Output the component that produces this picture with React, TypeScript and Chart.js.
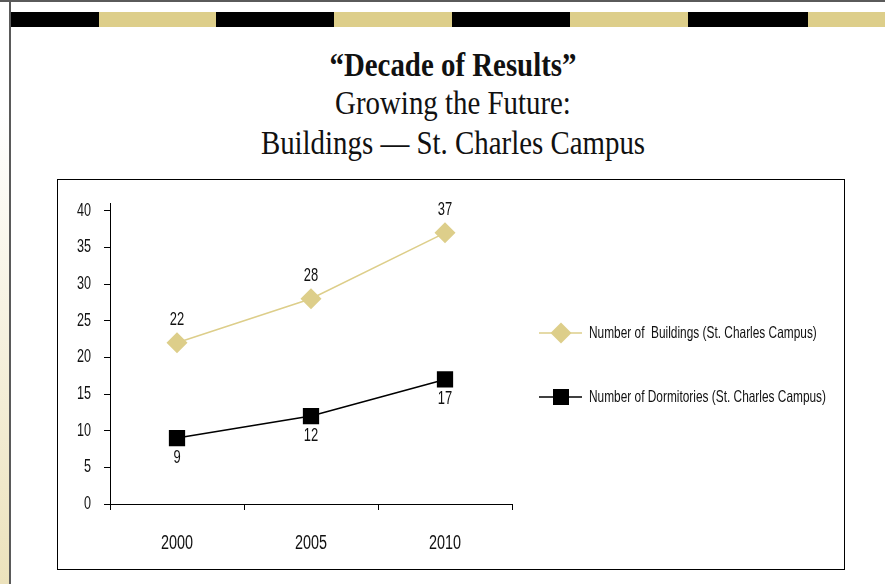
import React, { useEffect, useRef } from 'react';
import { Chart, registerables } from 'chart.js';

Chart.register(...registerables);

const categories = ['2000', '2005', '2010'];
const buildings = [22, 28, 37];
const dormitories = [9, 12, 17];
const yTicks = [0, 5, 10, 15, 20, 25, 30, 35, 40];
const seriesNames = [
  'Number of  Buildings (St. Charles Campus)',
  'Number of Dormitories (St. Charles Campus)',
];
const titleLines = ['\u201CDecade of Results\u201D', 'Growing the Future:', 'Buildings \u2014 St. Charles Campus'];

const GOLD = '#DDCE8A';
const FONT = '"Liberation Sans", Arial, sans-serif';
const SERIF = '"Liberation Serif", "Times New Roman", serif';
const SX = 0.72; // horizontal squeeze to mimic the condensed face

const stripeEdges = [11, 99, 216, 334, 452, 570, 688, 808, 885];

export default function App() {
  const ref = useRef<HTMLCanvasElement>(null);

  useEffect(() => {
    const canvas = ref.current;
    if (!canvas) return;
    const c2d: any = canvas.getContext('2d');
    const origFill = c2d.fillText.bind(c2d);
    const origMeasure = c2d.measureText.bind(c2d);
    c2d.fillText = (t: string, x: number, y: number, mw?: number) => {
      c2d.save();
      c2d.translate(x, y);
      c2d.scale(SX, 1);
      if (mw === undefined || mw === null) origFill(t, 0, 0);
      else origFill(t, 0, 0, mw / SX);
      c2d.restore();
    };
    c2d.measureText = (t: string) => {
      const m = origMeasure(t);
      return {
        width: m.width * SX,
        actualBoundingBoxAscent: m.actualBoundingBoxAscent,
        actualBoundingBoxDescent: m.actualBoundingBoxDescent,
        actualBoundingBoxLeft: m.actualBoundingBoxLeft * SX,
        actualBoundingBoxRight: m.actualBoundingBoxRight * SX,
      };
    };

    const labelPlugin = {
      id: 'valueLabels',
      afterDatasetsDraw(chart: any) {
        const ctx = chart.ctx;
        ctx.save();
        ctx.font = `18px ${FONT}`;
        ctx.fillStyle = '#111';
        ctx.textAlign = 'center';
        ctx.textBaseline = 'middle';
        chart.data.datasets.forEach((ds: any, i: number) => {
          const meta = chart.getDatasetMeta(i);
          const off = i === 0 ? -23 : 20;
          meta.data.forEach((el: any, j: number) => {
            ctx.fillText(String(ds.data[j]), el.x, el.y + off);
          });
        });
        ctx.restore();
      },
    };

    const legendPlugin = {
      id: 'customLegend',
      afterDraw(chart: any) {
        const ctx = chart.ctx;
        const right = chart.chartArea.right;
        const ys = [153, 217];
        ctx.save();
        chart.data.datasets.forEach((ds: any, i: number) => {
          const y = ys[i];
          const cx = right + 49;
          ctx.strokeStyle = ds.borderColor;
          ctx.lineWidth = 1.5;
          ctx.beginPath();
          ctx.moveTo(right + 27, y);
          ctx.lineTo(right + 70, y);
          ctx.stroke();
          ctx.fillStyle = ds.pointBackgroundColor;
          ctx.beginPath();
          if (ds.pointStyle === 'rectRot') {
            const r = 10.5;
            ctx.moveTo(cx - r, y);
            ctx.lineTo(cx, y - r);
            ctx.lineTo(cx + r, y);
            ctx.lineTo(cx, y + r);
            ctx.closePath();
          } else {
            ctx.rect(cx - 8, y - 8, 16, 16);
          }
          ctx.fill();
          ctx.fillStyle = '#111';
          ctx.font = `16.5px ${FONT}`;
          ctx.textAlign = 'left';
          ctx.textBaseline = 'middle';
          ctx.fillText(ds.label, right + 77, y);
        });
        ctx.restore();
      },
    };

    const chart = new Chart(canvas, {
      type: 'line',
      data: {
        labels: categories,
        datasets: [
          {
            label: seriesNames[0],
            data: buildings,
            borderColor: GOLD,
            backgroundColor: GOLD,
            borderWidth: 1.5,
            pointStyle: 'rectRot',
            pointRadius: 10.5,
            pointHoverRadius: 10.5,
            pointBorderWidth: 0,
            pointBackgroundColor: GOLD,
            pointBorderColor: GOLD,
            tension: 0,
          },
          {
            label: seriesNames[1],
            data: dormitories,
            borderColor: '#000',
            backgroundColor: '#000',
            borderWidth: 1.6,
            pointStyle: 'rect',
            pointRadius: 11.5,
            pointHoverRadius: 11.5,
            pointBorderWidth: 0,
            pointBackgroundColor: '#000',
            pointBorderColor: '#000',
            tension: 0,
          },
        ],
      },
      options: {
        responsive: false,
        animation: false,
        devicePixelRatio: 1,
        layout: { padding: { top: 22, right: 332, left: 0, bottom: 0 } },
        plugins: {
          legend: { display: false },
          tooltip: { enabled: false },
          title: { display: false },
        },
        scales: {
          x: {
            type: 'category',
            offset: true,
            grid: {
              offset: true,
              drawOnChartArea: false,
              drawTicks: true,
              tickLength: 6,
              color: '#000',
              lineWidth: 1,
            },
            border: { display: true, color: '#000', width: 1 },
            ticks: {
              padding: 21,
              color: '#111',
              font: { size: 20, family: FONT },
              maxRotation: 0,
              autoSkip: false,
            },
            afterFit: (s: any) => {
              s.height = 65;
            },
          },
          y: {
            type: 'linear',
            min: 0,
            max: 41,
            grid: {
              drawOnChartArea: false,
              drawTicks: true,
              tickLength: 6,
              color: '#000',
              lineWidth: 1,
            },
            border: { display: true, color: '#000', width: 1 },
            ticks: {
              padding: 13,
              color: '#111',
              font: { size: 17.5, family: FONT },
            },
            afterBuildTicks: (s: any) => {
              s.ticks = yTicks.map((v) => ({ value: v }));
            },
            afterFit: (s: any) => {
              s.width = 52;
            },
          },
        },
      },
      plugins: [labelPlugin, legendPlugin],
    } as any);

    return () => chart.destroy();
  }, []);

  return (
    <div
      style={{
        position: 'fixed',
        left: 0,
        top: 0,
        width: 885,
        height: 584,
        background: '#fff',
        overflow: 'hidden',
      }}
    >
      <div
        style={{
          position: 'absolute',
          left: 0,
          top: 0,
          width: 9,
          height: 584,
          background: 'linear-gradient(to bottom, #ffffff 0px, #ffffff 110px, #ECE2BC 584px)',
        }}
      />
      <div style={{ position: 'absolute', left: 0, top: 0, width: 885, height: 2, background: '#5a5a5a' }} />
      <div style={{ position: 'absolute', left: 9, top: 0, width: 2, height: 584, background: '#5a5a5a' }} />
      {stripeEdges.slice(0, -1).map((x, i) => (
        <div
          key={i}
          style={{
            position: 'absolute',
            left: x,
            top: 12,
            width: stripeEdges[i + 1] - x,
            height: 15,
            background: i % 2 === 0 ? '#000' : GOLD,
          }}
        />
      ))}
      {titleLines.map((t, i) => (
        <div
          key={i}
          style={{
            position: 'absolute',
            left: 153,
            width: 600,
            top: [49, 87, 127][i],
            textAlign: 'center',
            fontFamily: SERIF,
            fontSize: 33,
            lineHeight: '33px',
            fontWeight: i === 0 ? 'bold' : 'normal',
            color: '#111',
            whiteSpace: 'pre',
            transform: 'scaleX(0.875)',
            transformOrigin: '300px 50%',
          }}
        >
          {t}
        </div>
      ))}
      <div
        style={{
          position: 'absolute',
          left: 57,
          top: 179,
          width: 788,
          height: 391,
          border: '1px solid #000',
          boxSizing: 'border-box',
        }}
      >
        <canvas
          ref={ref}
          width={786}
          height={389}
          style={{ position: 'absolute', left: 0, top: 0, width: 786, height: 389 }}
        />
      </div>
    </div>
  );
}
